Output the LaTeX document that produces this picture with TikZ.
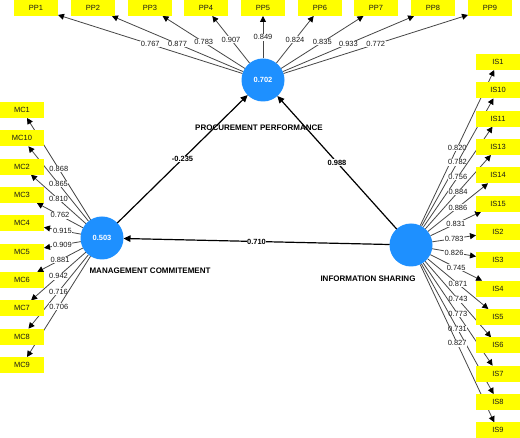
\documentclass[tikz,border=0pt]{standalone}
\usepackage{fontspec}
\setmainfont{Liberation Sans}
\usetikzlibrary{arrows.meta,backgrounds}
\definecolor{lvblue}{RGB}{30,144,255}
\definecolor{indyellow}{RGB}{255,255,0}
\definecolor{linegray}{RGB}{70,70,70}
\begin{document}
\begin{tikzpicture}[x=1pt,y=-1pt,
 ind/.style={fill=indyellow, minimum width=44pt, minimum height=16pt, inner sep=0pt, outer sep=0pt, text=black!90, font=\fontsize{7.5}{8}\selectfont},
 lv/.style={circle, fill=lvblue, minimum size=43pt, inner sep=0pt, outer sep=0pt, text=white, font=\bfseries\fontsize{7.5}{8}\selectfont},
 load/.style={draw=linegray, line width=0.8pt, -{Triangle[length=6pt,width=6pt,color=black]}},
 lbl/.style={fill=white, inner sep=0.6pt, font=\fontsize{7.5}{8}\selectfont, text=black!90},
 strpath/.style={draw=black, line width=1.2pt, -{Triangle[length=7pt,width=6.5pt]}},
 plbl/.style={fill=white, inner sep=0.6pt, font=\bfseries\fontsize{7.5}{8}\selectfont},
 lvname/.style={inner sep=0pt, font=\bfseries\fontsize{8}{9}\selectfont}]
\begin{scope}[on background layer]
  \fill[white] (0,0) rectangle (520,438);
\end{scope}
\useasboundingbox (0,0) rectangle (520,438);

% latent variables
\node[lv] (pp) at (263,80) {0.702};
\node[lv] (mc) at (102,238) {0.503};
\node[lv] (is) at (411,245) {};

\node[lvname] (ppname) at (259,128) {PROCUREMENT PERFORMANCE};
\node[lvname] (mcname) at (150,271) {MANAGEMENT COMMITEMENT};
\node[lvname] (isname) at (368,279) {INFORMATION SHARING};

% PP indicators
\foreach \n/\x/\v in {PP1/36/0.767, PP2/93/0.877, PP3/150/0.783, PP4/206/0.907, PP5/263/0.849, PP6/320/0.824, PP7/376/0.835, PP8/433/0.933, PP9/490/0.772}{
  \node[ind] (\n) at (\x,8) {\n};
  \begin{scope}[on background layer]
    \draw[load] (pp) -- node[lbl]{\v} (\n);
  \end{scope}
}

% MC indicators
\foreach \n/\v [count=\i from 0] in {MC1/0.868, MC10/0.865, MC2/0.810, MC3/0.762, MC4/0.915, MC5/0.909, MC6/0.881, MC7/0.942, MC8/0.716, MC9/0.706}{
  \node[ind] (\n) at (22,110+28.333*\i) {\n};
  \begin{scope}[on background layer]
    \draw[load] (mc) -- node[lbl]{\v} (\n);
  \end{scope}
}

% IS indicators
\foreach \n/\v [count=\i from 0] in {IS1/0.820, IS10/0.782, IS11/0.756, IS13/0.884, IS14/0.886, IS15/0.831, IS2/0.783, IS3/0.826, IS4/0.745, IS5/0.871, IS6/0.743, IS7/0.773, IS8/0.731, IS9/0.827}{
  \node[ind] (\n) at (498,62+28.333*\i) {\n};
  \begin{scope}[on background layer]
    \draw[load] (is) -- node[lbl]{\v} (\n);
  \end{scope}
}

% structural paths
\draw[strpath] (mc) -- node[plbl]{-0.235} (pp);
\draw[strpath] (is) -- node[plbl]{0.988} (pp);
\draw[strpath] (is) -- node[plbl]{0.710} (mc);
\end{tikzpicture}
\end{document}
